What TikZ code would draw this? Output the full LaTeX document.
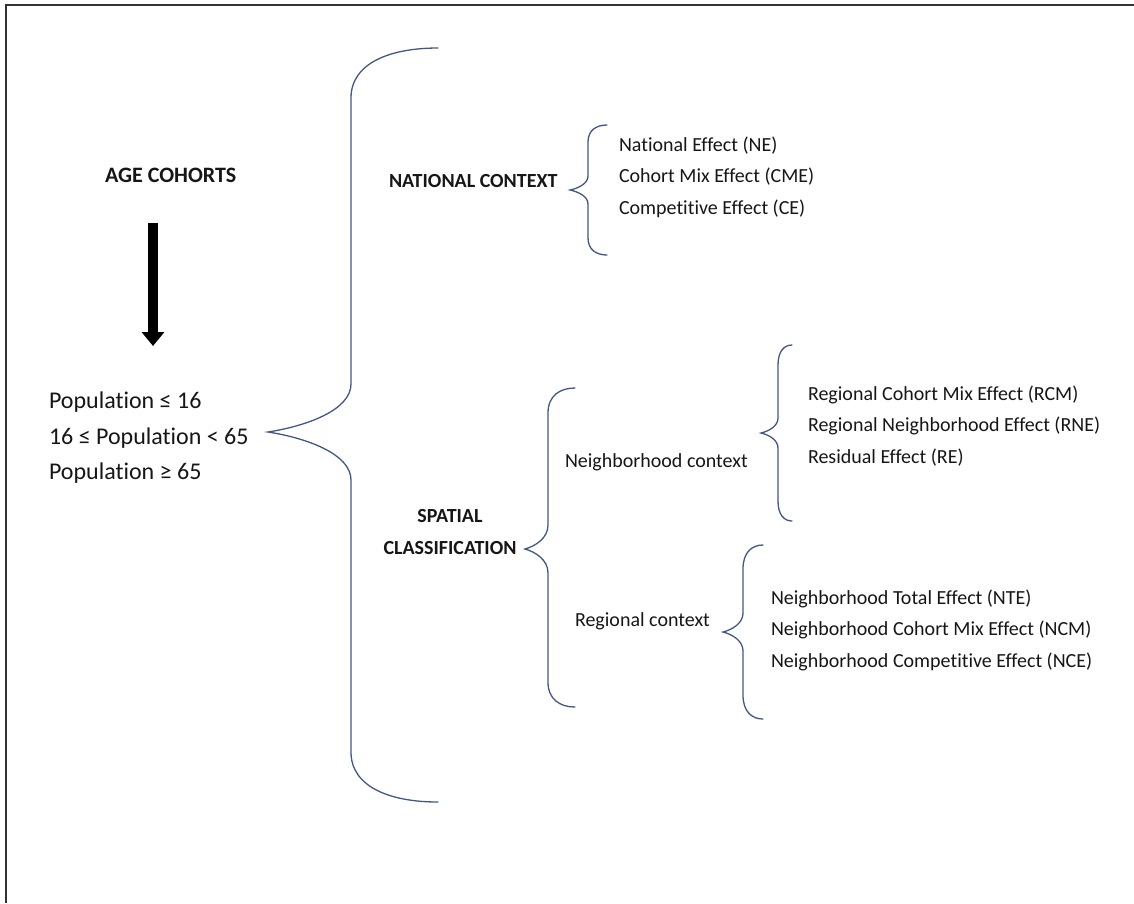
\documentclass[tikz,border=0pt]{standalone}
\usepackage{fontspec}
\setmainfont{Carlito}[Ligatures=NoCommon]
\usetikzlibrary{arrows.meta}
\definecolor{bracecol}{RGB}{66,88,128}
\definecolor{txt}{RGB}{22,22,22}
\definecolor{framecol}{RGB}{50,50,50}
% brace: tip x, tip y, vertical x, end x, top y, bottom y, corner drop, tip arm
\newcommand\drawbrace[8]{%
  \draw[brace] (#4,#5) .. controls ({#3+0.45*(#4-#3)},#5) and (#3,{#5+0.3*#7}) .. (#3,{#5+#7})
    -- (#3,{#2-#8}) .. controls (#3,{#2-0.45*#8}) and ({#1+0.45*(#3-#1)},{#2-0.12*#8}) .. (#1,#2)
    .. controls ({#1+0.45*(#3-#1)},{#2+0.12*#8}) and (#3,{#2+0.45*#8}) .. (#3,{#2+#8})
    -- (#3,{#6-#7}) .. controls (#3,{#6-0.3*#7}) and ({#3+0.45*(#4-#3)},#6) .. (#4,#6);}
\tikzset{
  every node/.style={inner sep=0pt, outer sep=0pt, text=txt},
  body/.style={font=\fontsize{20}{31.5}\selectfont, align=left, anchor=west},
  bigtext/.style={font=\fontsize{24}{35.5}\selectfont, align=left, anchor=west},
  head/.style={font=\bfseries\fontsize{20}{32}\selectfont, align=center},
  brace/.style={draw=bracecol, line width=1.3pt, line cap=round},
  frame/.style={draw=framecol, line width=2pt},
  bigarrow/.style={draw=black, line width=10pt, -{Triangle[width=22pt,length=14pt]}},
}
\begin{document}
\begin{tikzpicture}[x=1pt, y=-1pt]
\useasboundingbox (0,0) rectangle (1134,903);
\draw[frame] (6,903) -- (6,5) -- (1134,5);

% left column
\node[head, anchor=west, font=\bfseries\fontsize{22}{32}\selectfont] (age) at (105,175) {AGE COHORTS};
\coordinate (arrtop) at (153,223);
\coordinate (arrbot) at (153,346);
\draw[bigarrow] (arrtop) -- (arrbot);
\node[bigtext] (pop) at (49,438) {Population ≤ 16\\16 ≤ Population < 65\\Population ≥ 65};

% main brace
\drawbrace{268}{432}{351}{438}{48}{802}{50}{48}

% national
\node[head, anchor=west] (nat) at (389,181) {NATIONAL CONTEXT};
\drawbrace{570}{190}{588}{607}{125}{255}{17}{14}
\node[body] (natlist) at (619,177) {National Effect (NE)\\Cohort Mix Effect (CME)\\Competitive Effect (CE)};

% spatial
\node[head] (spat) at (450,532) {SPATIAL\\CLASSIFICATION};
\drawbrace{525}{549}{548}{575}{388}{707}{25}{24}

\node[body] (nbh) at (565,462) {Neighborhood context};
\drawbrace{761}{433}{778}{792}{345}{521}{20}{15}
\node[body] (nbhlist) at (808,426) {Regional Cohort Mix Effect (RCM)\\Regional Neighborhood Effect (RNE)\\Residual Effect (RE)};

\node[body] (reg) at (575,621) {Regional context};
\drawbrace{723}{632}{743}{763}{545}{719}{24}{19}
\node[body] (reglist) at (771,630) {Neighborhood Total Effect (NTE)\\Neighborhood Cohort Mix Effect (NCM)\\Neighborhood Competitive Effect (NCE)};
\end{tikzpicture}
\end{document}
